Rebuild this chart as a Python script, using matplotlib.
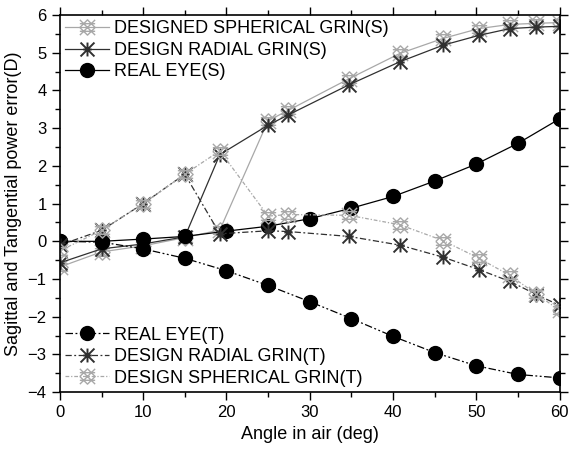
import numpy as np
import matplotlib
matplotlib.use("Agg")
import matplotlib.pyplot as plt
from matplotlib.path import Path
from matplotlib.ticker import MultipleLocator

plt.rcParams['font.family'] = ['Liberation Sans', 'DejaVu Sans']

# angles (deg)
eye_x = [0, 5, 10, 15, 20, 25, 30, 35, 40, 45, 50, 55, 60]
design_x = [0, 5, 10, 15, 19.2, 25, 27.4, 34.7, 40.8, 46, 50.3, 54, 57.2, 60]

# power errors (D)
eye_s = [0, 0, 0.06, 0.13, 0.27, 0.4, 0.6, 0.88, 1.19, 1.6, 2.05, 2.6, 3.25]
eye_t = [0, -0.02, -0.2, -0.45, -0.78, -1.17, -1.6, -2.05, -2.52, -2.95, -3.3, -3.53, -3.62]
radial_s = [-0.57, -0.2, -0.07, 0.12, 2.3, 3.08, 3.35, 4.15, 4.76, 5.2, 5.46, 5.64, 5.68, 5.7]
sph_s = [-0.68, -0.28, -0.12, 0.1, 0.3, 3.2, 3.47, 4.31, 4.98, 5.38, 5.64, 5.75, 5.78, 5.8]
radial_t = [-0.1, 0.29, 1.0, 1.78, 0.2, 0.28, 0.26, 0.13, -0.1, -0.42, -0.75, -1.06, -1.41, -1.7]
sph_t = [-0.25, 0.29, 1.0, 1.78, 2.4, 0.67, 0.71, 0.69, 0.44, 0.02, -0.45, -0.9, -1.4, -1.83]

M, L = Path.MOVETO, Path.LINETO
# crosshatched diamond (spherical) and 8-arm star (radial)
hatch = Path([(-1, -1), (1, 1), (-1, 1), (1, -1),
              (-1, 0), (0, 1), (1, 0), (0, -1), (-1, 0),
              (-1, -0.5), (1, -0.5), (-1, 0.5), (1, 0.5)],
             [M, L, M, L, M, L, L, L, L, M, L, M, L])
star = Path([(-1, -1), (1, 1), (-1, 1), (1, -1), (0, -1), (0, 1),
             (-0.6, 0), (0.6, 0)],
            [M, L, M, L, M, L, M, L])

light = '#a8a8a8'
dark = '#303030'

fig = plt.figure(figsize=(5.7, 4.55), dpi=100)
ax = fig.add_axes([0.105, 0.138, 0.877, 0.829])

h1, = ax.plot(design_x, sph_s, '-', color=light, lw=0.9, marker=hatch, ms=11,
              mew=1.0, mec=light, mfc='none', label='DESIGNED SPHERICAL GRIN(S)')
h2, = ax.plot(design_x, radial_s, '-', color=dark, lw=0.9, marker=star, ms=10,
              mew=1.4, mec=dark, mfc='none', label='DESIGN RADIAL GRIN(S)')
h3, = ax.plot(eye_x, eye_s, '-', color='black', lw=0.9, marker='o', ms=10,
              label='REAL EYE(S)')
h4, = ax.plot(eye_x, eye_t, color='black', lw=0.9, ls=(0, (6, 2, 1.5, 2, 1.5, 2)),
              marker='o', ms=10, label='REAL EYE(T)')
h5, = ax.plot(design_x, radial_t, color=dark, lw=0.9, ls=(0, (5, 2, 1.5, 2)),
              marker=star, ms=10, mew=1.4, mec=dark, mfc='none',
              label='DESIGN RADIAL GRIN(T)')
h6, = ax.plot(design_x, sph_t, color=light, lw=0.9, ls=(0, (3, 1.5, 1, 1.5)),
              marker=hatch, ms=11, mew=1.0, mec=light, mfc='none',
              label='DESIGN SPHERICAL GRIN(T)')

ax.set_xlim(0, 60)
ax.set_ylim(-4, 6)
ax.xaxis.set_major_locator(MultipleLocator(10))
ax.xaxis.set_minor_locator(MultipleLocator(5))
ax.yaxis.set_major_locator(MultipleLocator(1))
ax.yaxis.set_minor_locator(MultipleLocator(0.5))
ax.tick_params(which='both', direction='out', top=True, right=True, labelsize=12, width=1.0)
ax.tick_params(which='major', length=6)
ax.tick_params(which='minor', length=3.5)
for s in ax.spines.values():
    s.set_linewidth(1.2)

ax.set_xlabel('Angle in air (deg)', fontsize=13)
ax.set_ylabel('Sagittal and Tangential power error(D)', fontsize=13)

leg1 = ax.legend(handles=[h1, h2, h3], loc='upper left', frameon=False, fontsize=13,
                 handlelength=2.4, handletextpad=0.3, labelspacing=0.25,
                 borderaxespad=0.1, borderpad=0.2)
ax.add_artist(leg1)
ax.legend(handles=[h4, h5, h6], loc='lower left', frameon=False, fontsize=13,
          handlelength=2.4, handletextpad=0.3, labelspacing=0.25,
          borderaxespad=0.1, borderpad=0.2)

fig.savefig('out.png', dpi=100)
